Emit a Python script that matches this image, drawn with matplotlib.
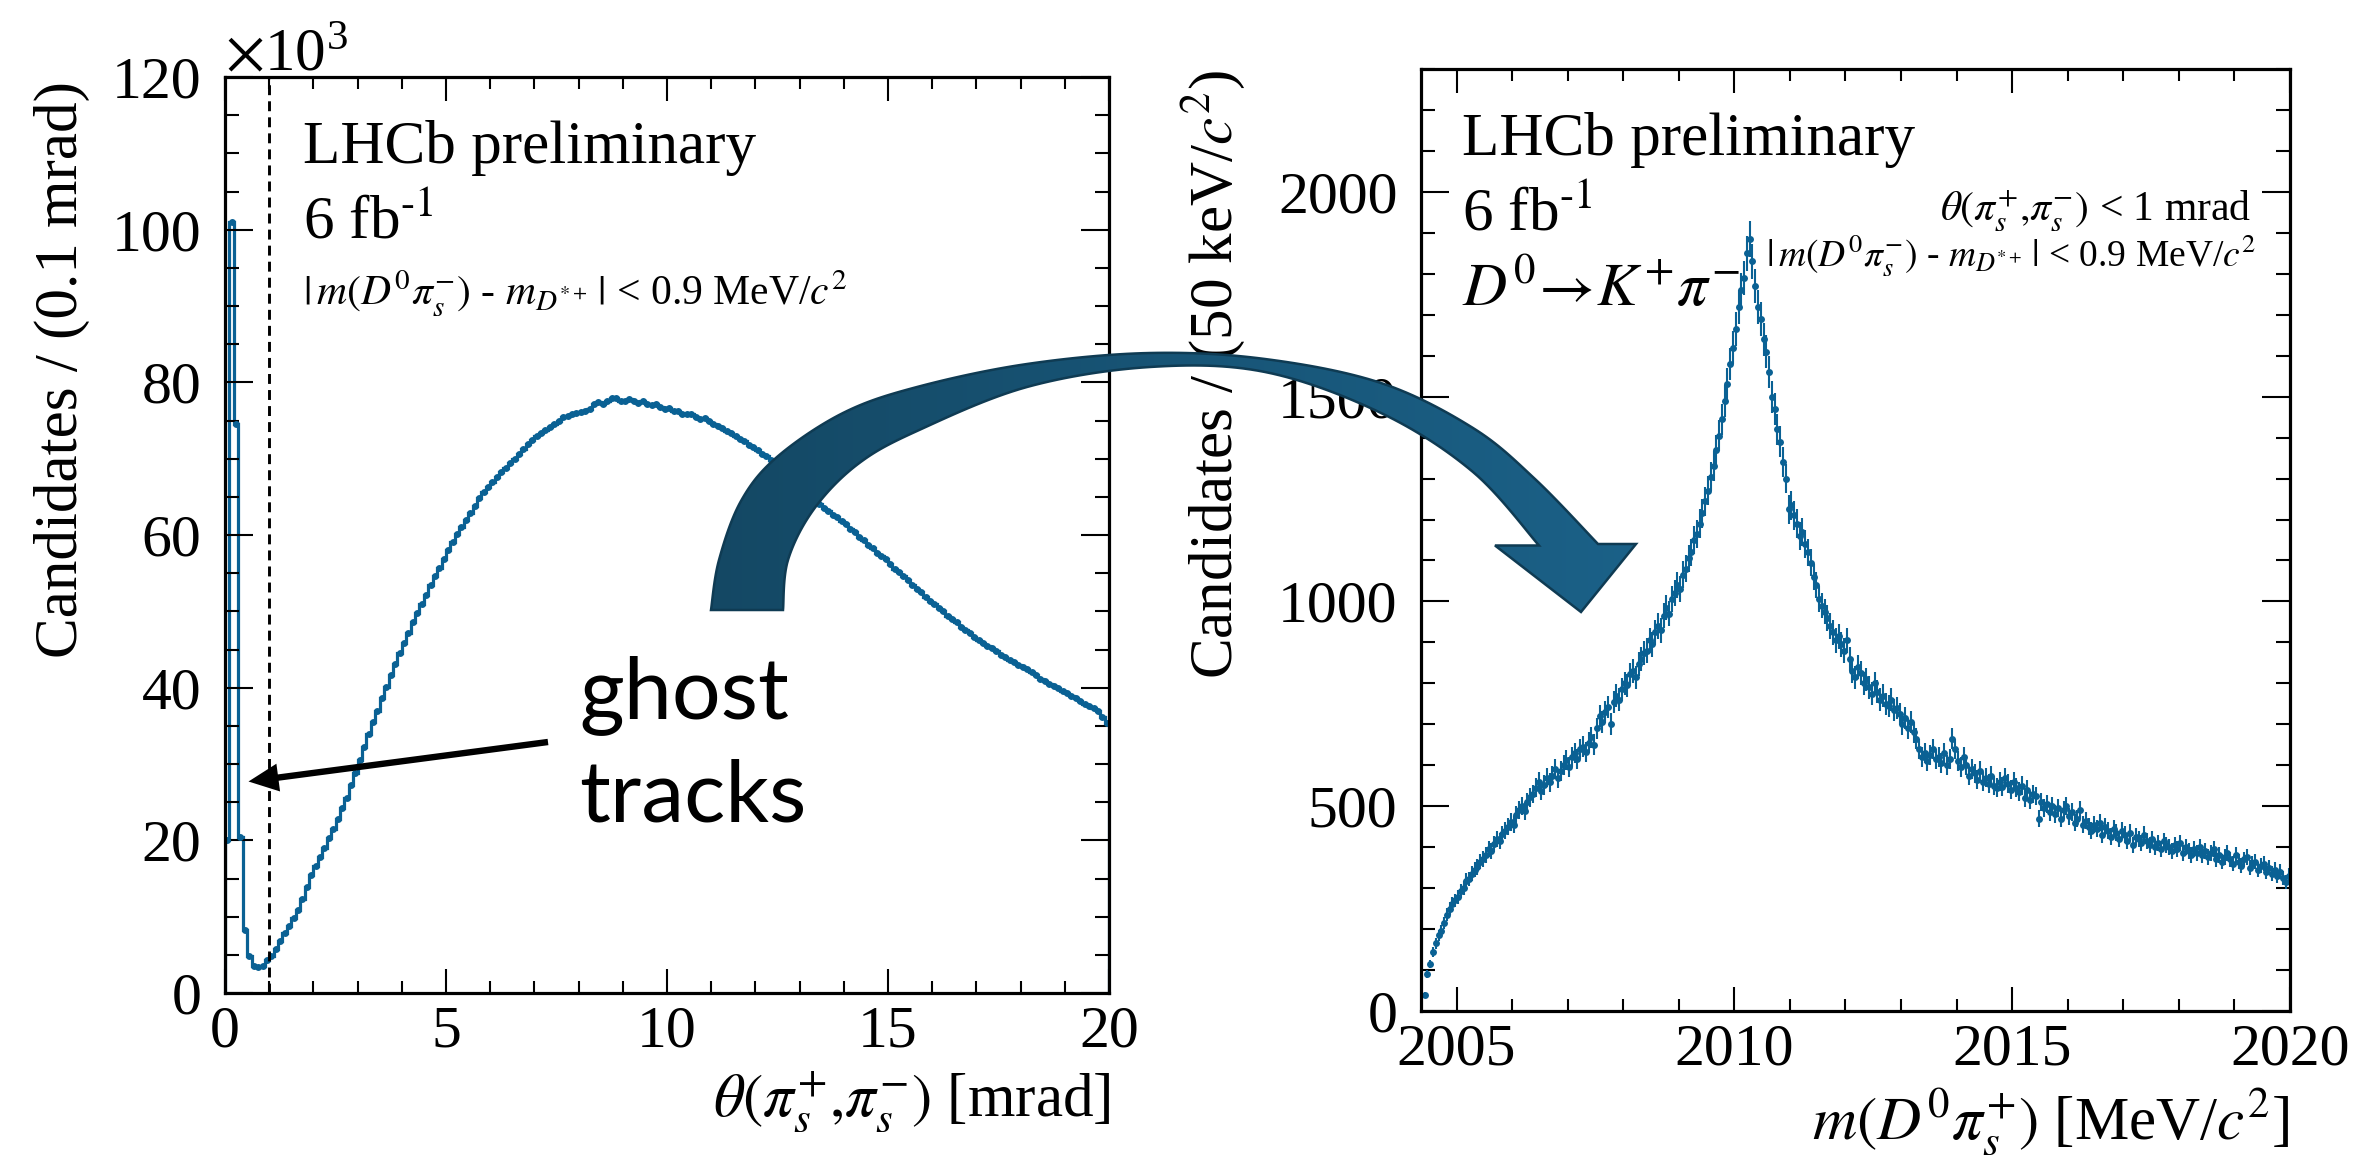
import numpy as np
import matplotlib
matplotlib.use("Agg")
import matplotlib.pyplot as plt
from matplotlib.patches import PathPatch, Polygon
from matplotlib.path import Path
from matplotlib.colors import LinearSegmentedColormap
from matplotlib.ticker import MultipleLocator

plt.rcParams['font.family'] = ['Liberation Serif', 'DejaVu Serif']
plt.rcParams['mathtext.fontset'] = 'stix'

# ---------------------------------------------------------------- data
# opening angle between the two slow pions, 0.1 mrad bins, counts in 10^3
theta_bin_width = 0.1
theta_counts = [
    20.0, 101.0, 74.5, 20.5, 8.3, 4.8, 3.5, 3.4, 3.6, 4.3,
    4.9, 5.8, 6.8, 7.8, 8.8, 9.8, 10.9, 12.3, 13.9, 15.4,
    16.7, 17.8, 19.0, 20.3, 21.5, 22.8, 24.2, 25.6, 27.2, 28.8,
    30.5, 32.2, 33.9, 35.5, 37.0, 38.6, 40.1, 41.6, 43.1, 44.5,
    45.9, 47.2, 48.6, 49.8, 51.0, 52.2, 53.4, 54.6, 55.7, 56.8,
    58.0, 59.1, 60.1, 61.1, 62.0, 62.9, 63.8, 64.8, 65.6, 66.3,
    67.0, 67.6, 68.2, 68.8, 69.4, 70.0, 70.6, 71.3, 71.9, 72.5,
    73.0, 73.4, 73.8, 74.1, 74.6, 75.0, 75.4, 75.6, 75.8, 76.0,
    76.1, 76.3, 76.5, 77.1, 77.4, 77.2, 77.5, 77.9, 78.0, 77.6,
    77.5, 77.8, 77.5, 77.3, 77.6, 77.2, 77.0, 77.1, 76.8, 76.5,
    76.6, 76.2, 76.3, 75.9, 75.8, 75.9, 75.5, 75.2, 75.3, 74.9,
    74.6, 74.3, 74.0, 73.6, 73.4, 73.0, 72.6, 72.3, 71.8, 71.5,
    71.1, 70.6, 70.3, 69.8, 69.2, 68.8, 68.2, 67.7, 67.2, 66.5,
    66.0, 65.5, 65.0, 64.6, 64.1, 63.5, 63.1, 62.6, 62.3, 61.8,
    61.4, 60.8, 60.4, 59.8, 59.3, 58.7, 58.3, 57.7, 57.2, 56.8,
    56.2, 55.6, 55.2, 54.6, 54.1, 53.4, 52.9, 52.5, 51.9, 51.4,
    51.0, 50.4, 50.0, 49.4, 49.0, 48.6, 48.0, 47.6, 47.1, 46.7,
    46.3, 45.8, 45.5, 45.2, 44.8, 44.3, 44.0, 43.6, 43.3, 43.0,
    42.7, 42.4, 42.0, 41.6, 41.2, 40.9, 40.5, 40.2, 39.9, 39.6,
    39.3, 38.9, 38.6, 38.2, 37.9, 37.6, 37.3, 36.9, 36.2, 35.4,
]
theta_cut = 1.0  # mrad

# D0 pi mass spectrum for theta < 1 mrad, 50 keV bins starting at threshold
mass_start = 2004.40
mass_bin_width = 0.05
mass_counts = [
    40, 90, 115, 145, 165, 185, 195, 215, 235, 250,
    262, 270, 278, 292, 300, 318, 322, 335, 345, 352,
    365, 372, 380, 395, 390, 408, 420, 415, 432, 440,
    450, 462, 455, 478, 490, 500, 488, 510, 522, 530,
    545, 560, 538, 552, 570, 558, 575, 590, 568, 585,
    600, 612, 595, 620, 630, 615, 640, 645, 632, 655,
    668, 650, 690, 720, 705, 730, 742, 700, 755, 770,
    760, 785, 800, 795, 822, 830, 815, 848, 860, 875,
    880, 905, 895, 925, 940, 930, 965, 985, 970, 1005,
    1020, 1040, 1030, 1065, 1080, 1105, 1120, 1150, 1165, 1190,
    1215, 1245, 1270, 1305, 1330, 1370, 1405, 1445, 1490, 1530,
    1580, 1620, 1665, 1720, 1760, 1790, 1850, 1885, 1830, 1770,
    1720, 1690, 1640, 1610, 1560, 1500, 1470, 1420, 1390, 1340,
    1300, 1225, 1235, 1210, 1190, 1160, 1170, 1140, 1120, 1095,
    1060, 1040, 1005, 990, 975, 960, 940, 925, 905, 915,
    895, 880, 905, 860, 830, 815, 840, 825, 800, 810,
    790, 775, 800, 780, 760, 770, 750, 745, 760, 735,
    740, 725, 700, 715, 690, 705, 680, 665, 640, 620,
    630, 610, 625, 640, 615, 620, 605, 630, 600, 615,
    665, 640, 610, 595, 620, 600, 575, 590, 580, 565,
    585, 560, 570, 555, 575, 550, 545, 560, 548, 570,
    555, 540, 560, 545, 535, 550, 520, 540, 515, 530,
    525, 470, 510, 495, 505, 485, 500, 480, 495, 470,
    490, 500, 475, 485, 460, 470, 490, 455, 465, 450,
    440, 455, 445, 460, 430, 450, 440, 425, 445, 435,
    420, 440, 430, 415, 435, 405, 425, 420, 410, 430,
    415, 405, 420, 400, 410, 395, 415, 405, 400, 390,
    405, 395, 410, 385, 400, 390, 380, 395, 385, 400,
    380, 390, 375, 385, 395, 370, 380, 365, 375, 385,
    370, 360, 380, 365, 355, 370, 375, 350, 360, 365,
    345, 355, 360, 340, 350, 335, 345, 330, 340, 325,
    315, 330,
]

left_xticks = [0, 5, 10, 15, 20]
left_yticks = [0, 20, 40, 60, 80, 100, 120]
right_xticks = [2005, 2010, 2015, 2020]
right_yticks = [0, 500, 1000, 1500, 2000]

# ---------------------------------------------------------------- figure
W, H = 2357, 1156
fig = plt.figure(figsize=(W / 100, H / 100), dpi=100)
BLUE = '#0a6194'
MAIN = 44
TICK = 43


def px(x, y):
    return x / W, 1 - y / H


def style_axes(ax):
    for s in ax.spines.values():
        s.set_linewidth(2.3)
    ax.tick_params(which='both', direction='in', top=True, right=True,
                   width=1.5, labelsize=TICK)
    ax.tick_params(axis='x', which='major', length=17, pad=9)
    ax.tick_params(axis='x', which='minor', length=8.5)
    ax.tick_params(axis='y', which='major', length=20, pad=17)
    ax.tick_params(axis='y', which='minor', length=10)


# ---- left panel: opening angle
axL = fig.add_axes([225 / W, 1 - 993 / H, (1109 - 225) / W, (993 - 77) / H])
edges = np.arange(len(theta_counts) + 1) * theta_bin_width
centers = 0.5 * (edges[1:] + edges[:-1])
axL.stairs(theta_counts, edges, color=BLUE, lw=2.3, baseline=0)
axL.plot(centers, theta_counts, 'o', color=BLUE, ms=5.0, mew=0)
axL.axvline(theta_cut, color='black', lw=2.1, ls=(0, (3.4, 2.1)))
axL.set_xlim(0, 20)
axL.set_ylim(0, 120)
axL.set_xticks(left_xticks)
axL.set_yticks(left_yticks)
axL.xaxis.set_minor_locator(MultipleLocator(1))
axL.yaxis.set_minor_locator(MultipleLocator(5))
style_axes(axL)

fig.text(*px(225, 70), r'$\times$10$^{\mathregular{3}}$', fontsize=MAIN,
         va='baseline', ha='left')
fig.text(*px(62, 81), 'Candidates / (0.1 mrad)', rotation=90,
         fontsize=MAIN, ha='center', va='top')
fig.text(*px(1111, 1117), r'$\theta(\pi^{+}_{s}{,}\pi^{-}_{s})$ [mrad]',
         fontsize=MAIN, ha='right', va='baseline')
fig.text(*px(303, 163), 'LHCb preliminary', fontsize=MAIN, va='baseline')
fig.text(*px(303, 238), r'6 fb$^{\text{-1}}$', fontsize=MAIN,
         va='baseline')
fig.text(*px(303, 306),
         r'$|\,m(D^{0}\pi^{-}_{s})$ - $m_{D^{*+}}\,|$ < 0.9 MeV/$c^{2}$',
         fontsize=30, va='baseline')

# ---- right panel: D0 pi mass
axR = fig.add_axes([1421 / W, 1 - 1011 / H, (2290 - 1421) / W, (1011 - 69) / H])
counts = np.array(mass_counts, dtype=float)
mcent = mass_start + (np.arange(len(counts)) + 0.5) * mass_bin_width
axR.errorbar(mcent, counts, yerr=np.sqrt(counts), fmt='o', color=BLUE,
             ms=5.0, mew=0, elinewidth=1.5, capsize=0)
axR.set_xlim(2004.36, 2020)
axR.set_ylim(0, 2300)
axR.set_xticks(right_xticks)
axR.set_yticks(right_yticks)
axR.xaxis.set_minor_locator(MultipleLocator(1))
axR.yaxis.set_minor_locator(MultipleLocator(100))
style_axes(axR)

fig.text(*px(1213, 70), r'Candidates / (50 keV/$c^{2}$)', rotation=90,
         fontsize=MAIN, ha='center', va='top')
fig.text(*px(2290, 1139), r'$m(D^{0}\pi^{+}_{s})$ [MeV/$c^{2}$]',
         fontsize=MAIN, ha='right', va='baseline')
fig.text(*px(1462, 155), 'LHCb preliminary', fontsize=MAIN, va='baseline')
fig.text(*px(1462, 230), r'6 fb$^{\text{-1}}$', fontsize=MAIN,
         va='baseline')
fig.text(*px(1462, 306), r'$D^{0}\!\rightarrow\! K^{+}\pi^{-}$', fontsize=MAIN,
         va='baseline')
fig.text(*px(2251, 221), r'$\theta(\pi^{+}_{s}{,}\pi^{-}_{s})$ < 1 mrad',
         fontsize=30, ha='right', va='baseline')
fig.text(*px(2256, 267),
         r'$|\,m(D^{0}\pi^{-}_{s})$ - $m_{D^{*+}}\,|$ < 0.9 MeV/$c^{2}$',
         fontsize=27, ha='right', va='baseline')

# ---------------------------------------------------------------- overlay
ov = fig.add_axes([0, 0, 1, 1], zorder=10)
ov.patch.set_alpha(0)
ov.axis('off')


def smooth(pts, n=16):
    pts = np.asarray(pts, float)
    p = np.vstack([pts[0], pts, pts[-1]])
    out = []
    t = np.linspace(0, 1, n, endpoint=False)[:, None]
    for i in range(1, len(p) - 2):
        p0, p1, p2, p3 = p[i - 1], p[i], p[i + 1], p[i + 2]
        out.append(0.5 * (2 * p1 + (-p0 + p2) * t
                          + (2 * p0 - 5 * p1 + 4 * p2 - p3) * t ** 2
                          + (-p0 + 3 * p1 - 3 * p2 + p3) * t ** 3))
    out.append(p[-2][None])
    return np.vstack(out)


# curved arrow linking the two panels
outer_edge = [(711, 610), (719, 560), (741, 501), (777, 457), (843, 413),
              (917, 387), (1027, 364), (1150, 353), (1265, 359), (1381, 383),
              (1473, 428), (1535, 479), (1598, 544)]
head = [(1636, 544), (1581, 612), (1495, 545.5)]
inner_edge = [(1539, 545.5), (1473, 472), (1381, 413), (1265, 372),
              (1150, 367), (1027, 387), (917, 431), (858, 464), (814, 509),
              (788, 560), (783, 610)]
verts = np.vstack([smooth(outer_edge), np.array(head), smooth(inner_edge),
                   [outer_edge[0]]])
codes = [Path.MOVETO] + [Path.LINETO] * (len(verts) - 2) + [Path.CLOSEPOLY]
arrow_path = Path(verts, codes)
clip_patch = PathPatch(arrow_path, facecolor='none', edgecolor='none')
ov.add_patch(clip_patch)
grad = np.linspace(0, 1, 256).reshape(1, -1)
cmap = LinearSegmentedColormap.from_list('arrow', ['#144864', '#1b6188'])
im = ov.imshow(grad, extent=(700, 1645, 620, 340), cmap=cmap, aspect='auto',
               interpolation='bilinear', zorder=1)
im.set_clip_path(clip_patch)
ov.add_patch(PathPatch(arrow_path, facecolor='none', edgecolor='#0f3b53',
                       lw=1.8, zorder=2))

# ghost-track pointer
tail = np.array([548.0, 742.0])
tip = np.array([248.5, 781.5])
u = (tip - tail) / np.hypot(*(tip - tail))
perp = np.array([-u[1], u[0]])
base = tip - 30 * u
ov.plot([tail[0], base[0] + 2 * u[0]], [tail[1], base[1] + 2 * u[1]],
        color='black', lw=4.6, solid_capstyle='butt', zorder=3)
ov.add_patch(Polygon([tip, base + 14 * perp, base - 14 * perp],
                     closed=True, facecolor='black', edgecolor='none',
                     zorder=3))
ov.text(579, 718, 'ghost', fontsize=62, family=['Lato', 'DejaVu Sans'],
        va='baseline', ha='left', zorder=4)
ov.text(579, 821, 'tracks', fontsize=62, family=['Lato', 'DejaVu Sans'],
        va='baseline', ha='left', zorder=4)

ov.set_xlim(0, W)
ov.set_ylim(H, 0)

fig.savefig('out.png', dpi=100)
